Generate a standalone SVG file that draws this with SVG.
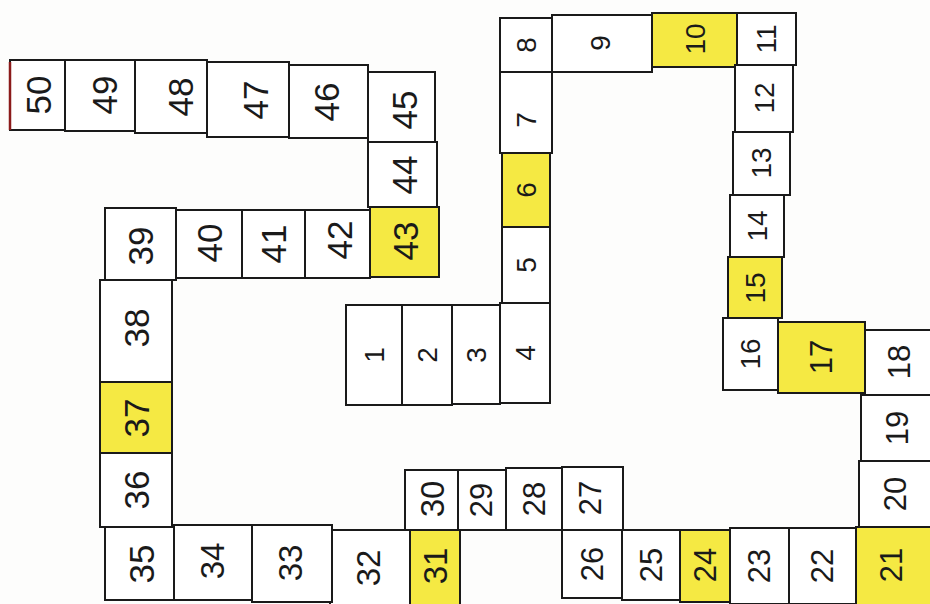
<svg xmlns="http://www.w3.org/2000/svg" width="930" height="604" viewBox="0 0 930 604">
<style>
.c rect{fill:#fff;stroke:#1a1a1a;stroke-width:2}
.y rect{fill:#f5e943}
text{font-family:"Liberation Sans","DejaVu Sans",sans-serif;fill:#1a1a1a;text-anchor:middle;dominant-baseline:central}
.s text{font-size:28px}
.m text{font-size:31px}
.l text{font-size:33px}
.xl text{font-size:35px}
</style>
<rect width="930" height="604" fill="#fdfdfc"/>
<g class="c s">
<g id="c1"><rect x="346" y="305" width="56" height="100"/><text transform="translate(374,355) rotate(-90)">1</text></g>
<g id="c2"><rect x="402" y="305" width="50" height="100"/><text transform="translate(427,355) rotate(-90)">2</text></g>
<g id="c3"><rect x="452" y="305" width="48" height="99"/><text transform="translate(476,355) rotate(-90)">3</text></g>
<g id="c4"><rect x="500" y="303" width="50" height="100"/><text transform="translate(525,353) rotate(-90)">4</text></g>
<g id="c5"><rect x="502" y="227" width="48" height="76"/><text transform="translate(526,265) rotate(-90)">5</text></g>
<g id="c6" class="y"><rect x="502" y="153" width="48" height="74"/><text transform="translate(526,190) rotate(-90)">6</text></g>
<g id="c7"><rect x="500" y="72" width="52" height="81"/><text transform="translate(526,120) rotate(-90)">7</text></g>
<g id="c8"><rect x="500" y="18" width="52" height="54"/><text transform="translate(526,45) rotate(-90)">8</text></g>
<g id="c9"><rect x="552" y="15" width="100" height="57"/><text transform="translate(600,43) rotate(-90)">9</text></g>
<g id="c10" class="y"><rect x="652" y="13" width="85" height="54"/><text transform="translate(695,39) rotate(-90)">10</text></g>
<g id="c11"><rect x="737" y="13" width="59" height="52"/><text transform="translate(766,39) rotate(-90)">11</text></g>
<g id="c12"><rect x="735" y="65" width="58" height="67"/><text transform="translate(764,98) rotate(-90)">12</text></g>
<g id="c13"><rect x="733" y="132" width="57" height="63"/><text transform="translate(761,163) rotate(-90)">13</text></g>
<g id="c14"><rect x="730" y="195" width="54" height="62"/><text transform="translate(757,226) rotate(-90)">14</text></g>
<g id="c15" class="y"><rect x="728" y="257" width="54" height="61"/><text transform="translate(755,288) rotate(-90)">15</text></g>
<g id="c16"><rect x="723" y="318" width="55" height="72"/><text transform="translate(750,354) rotate(-90)">16</text></g>
</g>
<g class="c m">
<g id="c17" class="y"><rect x="778" y="322" width="87" height="71"/><text transform="translate(821,357) rotate(-90)">17</text></g>
<g id="c18"><rect x="865" y="330" width="67" height="65"/><text transform="translate(899,362) rotate(-90)">18</text></g>
<g id="c19"><rect x="861" y="395" width="71" height="66"/><text transform="translate(897,428) rotate(-90)">19</text></g>
<g id="c20"><rect x="859" y="461" width="73" height="66"/><text transform="translate(895,494) rotate(-90)">20</text></g>
<g id="c21" class="y"><rect x="856" y="527" width="76" height="79"/><text transform="translate(891,565) rotate(-90)">21</text></g>
<g id="c22"><rect x="789" y="528" width="67" height="76"/><text transform="translate(822,566) rotate(-90)">22</text></g>
<g id="c23"><rect x="730" y="528" width="59" height="76"/><text transform="translate(759,566) rotate(-90)">23</text></g>
<g id="c24" class="y"><rect x="680" y="530" width="50" height="72"/><text transform="translate(705,565) rotate(-90)">24</text></g>
<g id="c25"><rect x="622" y="530" width="58" height="70"/><text transform="translate(651,565) rotate(-90)">25</text></g>
<g id="c26"><rect x="562" y="530" width="60" height="68"/><text transform="translate(592,564) rotate(-90)">26</text></g>
<g id="c27"><rect x="562" y="467" width="61" height="63"/><text transform="translate(590,498) rotate(-90)">27</text></g>
<g id="c28"><rect x="506" y="468" width="56" height="62"/><text transform="translate(534,499) rotate(-90)">28</text></g>
<g id="c29"><rect x="458" y="470" width="48" height="60"/><text transform="translate(481,500) rotate(-90)">29</text></g>
</g>
<g class="c l">
<g id="c30"><rect x="405" y="470" width="53" height="60"/><text transform="translate(432,499) rotate(-90)">30</text></g>
<g id="c31" class="y"><rect x="410" y="530" width="50" height="75"/><text transform="translate(435,566) rotate(-90)">31</text></g>
<g id="c32"><rect x="330" y="530" width="80" height="75"/><text transform="translate(368,568) rotate(-90)">32</text></g>
<g id="c33"><rect x="252" y="525" width="80" height="77"/><text transform="translate(290,563) rotate(-90)">33</text></g>
<g id="c34"><rect x="174" y="525" width="78" height="75"/><text transform="translate(212,561) rotate(-90)">34</text></g>
</g>
<g class="c xl">
<g id="c35"><rect x="105" y="527" width="69" height="73"/><text transform="translate(141,564) rotate(-90)">35</text></g>
<g id="c36"><rect x="100" y="453" width="72" height="74"/><text transform="translate(136,490) rotate(-90)">36</text></g>
<g id="c37" class="y"><rect x="100" y="382" width="72" height="71"/><text transform="translate(136,418) rotate(-90)">37</text></g>
<g id="c38"><rect x="100" y="280" width="72" height="102"/><text transform="translate(136,328) rotate(-90)">38</text></g>
<g id="c39"><rect x="105" y="208" width="71" height="72"/><text transform="translate(140,246) rotate(-90)">39</text></g>
<g id="c40"><rect x="176" y="210" width="66" height="68"/><text transform="translate(209,243) rotate(-90)">40</text></g>
<g id="c41"><rect x="242" y="210" width="63" height="68"/><text transform="translate(273,244) rotate(-90)">41</text></g>
<g id="c42"><rect x="305" y="210" width="65" height="68"/><text transform="translate(339,240) rotate(-90)">42</text></g>
<g id="c43" class="y"><rect x="370" y="207" width="69" height="70"/><text transform="translate(405,241) rotate(-90)">43</text></g>
<g id="c44"><rect x="368" y="142" width="69" height="65"/><text transform="translate(404,175) rotate(-90)">44</text></g>
<g id="c45"><rect x="368" y="72" width="67" height="70"/><text transform="translate(404,110) rotate(-90)">45</text></g>
<g id="c46"><rect x="289" y="65" width="79" height="73"/><text transform="translate(326,102) rotate(-90)">46</text></g>
<g id="c47"><rect x="207" y="62" width="82" height="75"/><text transform="translate(255,100) rotate(-90)">47</text></g>
<g id="c48"><rect x="135" y="60" width="72" height="73"/><text transform="translate(180,97) rotate(-90)">48</text></g>
<g id="c49"><rect x="65" y="60" width="70" height="71"/><text transform="translate(104,95) rotate(-90)">49</text></g>
<g id="c50"><rect x="10" y="60" width="55" height="70"/><text transform="translate(38,95) rotate(-90)">50</text></g>
</g>
<line x1="10" y1="62" x2="10" y2="130" stroke="#8b1a1a" stroke-width="2.5"/>
</svg>
